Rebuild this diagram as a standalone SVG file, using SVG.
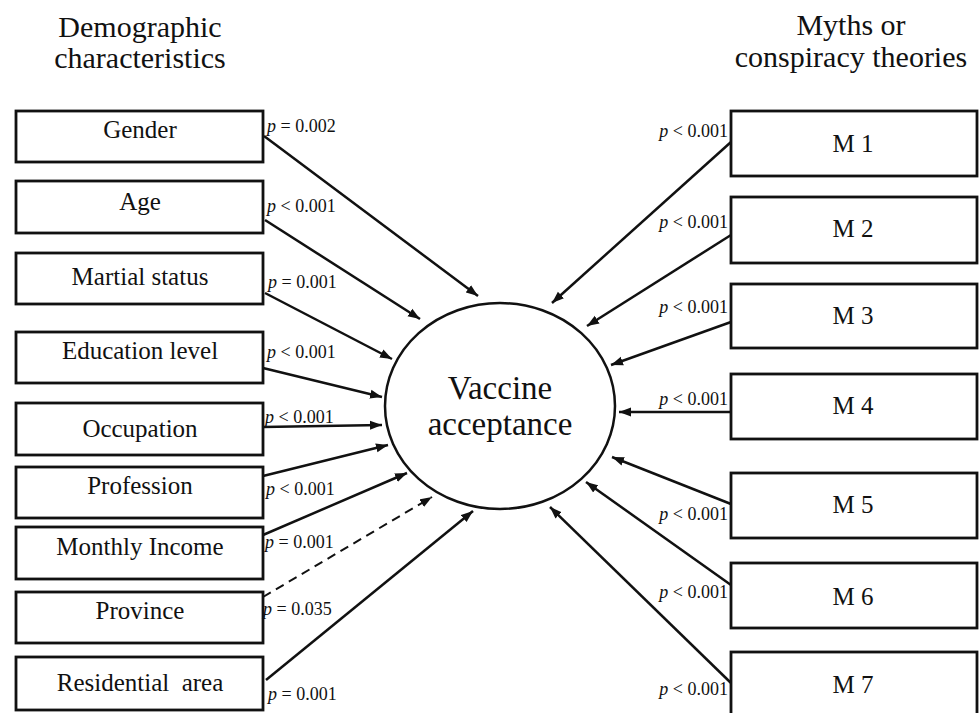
<svg xmlns="http://www.w3.org/2000/svg" width="980" height="713" viewBox="0 0 980 713" font-family="'Liberation Serif', 'DejaVu Serif', serif">
<style>
text{font-family:'Liberation Serif','DejaVu Serif',serif;fill:#111}
.box{fill:#fff;stroke:#111;stroke-width:2.8}
.lbl{font-size:25px;text-anchor:middle}
.hd{font-size:30px;text-anchor:middle}
.pv{font-size:18px}
.pr{font-size:18px;text-anchor:end}
.i{font-style:italic}
.ln{stroke:#111;stroke-width:2.5;fill:none;marker-end:url(#ah)}
.dash{stroke-width:2;stroke-dasharray:9 6}
</style>
<defs>
<marker id="ah" markerUnits="userSpaceOnUse" markerWidth="14" markerHeight="10" refX="12" refY="5" orient="auto">
<path d="M0,0.5 L12,5 L0,9.5 Z" fill="#111"/>
</marker>
</defs>
<rect width="980" height="713" fill="#fff"/>
<g id="headings">
<text class="hd" x="140" y="37">Demographic</text>
<text class="hd" x="140" y="68">characteristics</text>
<text class="hd" x="851" y="35">Myths or</text>
<text class="hd" x="851" y="67">conspiracy theories</text>
</g>
<g id="connectors">
<line class="ln" x1="264" y1="136" x2="478" y2="296"/>
<line class="ln" x1="265" y1="220" x2="420" y2="319"/>
<line class="ln" x1="265" y1="293" x2="392" y2="359"/>
<line class="ln" x1="263" y1="368" x2="382" y2="397"/>
<line class="ln" x1="263" y1="427" x2="382" y2="425"/>
<line class="ln" x1="263" y1="476" x2="388" y2="445"/>
<line class="ln" x1="263" y1="535" x2="407" y2="473"/>
<line class="ln dash" x1="263" y1="597" x2="432" y2="497"/>
<line class="ln" x1="266" y1="680" x2="473" y2="511"/>
<line class="ln" x1="731" y1="142" x2="552" y2="303"/>
<line class="ln" x1="731" y1="235" x2="587" y2="326"/>
<line class="ln" x1="731" y1="322" x2="611" y2="365"/>
<line class="ln" x1="731" y1="412" x2="619" y2="412"/>
<line class="ln" x1="731" y1="504" x2="612" y2="457"/>
<line class="ln" x1="731" y1="585" x2="586" y2="482"/>
<line class="ln" x1="731" y1="683" x2="550" y2="507"/>
</g>
<g id="vaccine">
<ellipse cx="500" cy="406" rx="115" ry="103" fill="#fff" stroke="#111" stroke-width="2.5"/>
<text class="hd" x="500" y="399" style="font-size:33px">Vaccine</text>
<text class="hd" x="500" y="435" style="font-size:33px">acceptance</text>
</g>
<g id="gender"><rect class="box" x="16" y="111" width="247" height="51"/><text class="lbl" x="140" y="138">Gender</text></g>
<g id="age"><rect class="box" x="16" y="181" width="247" height="52"/><text class="lbl" x="140" y="210">Age</text></g>
<g id="marital"><rect class="box" x="16" y="253" width="247" height="51"/><text class="lbl" x="140" y="285">Martial status</text></g>
<g id="education"><rect class="box" x="16" y="332" width="247" height="51"/><text class="lbl" x="140" y="359">Education level</text></g>
<g id="occupation"><rect class="box" x="16" y="403" width="247" height="52"/><text class="lbl" x="140" y="437">Occupation</text></g>
<g id="profession"><rect class="box" x="16" y="467" width="247" height="51"/><text class="lbl" x="140" y="494">Profession</text></g>
<g id="income"><rect class="box" x="16" y="527" width="247" height="52"/><text class="lbl" x="140" y="555">Monthly Income</text></g>
<g id="province"><rect class="box" x="16" y="592" width="247" height="51"/><text class="lbl" x="140" y="619">Province</text></g>
<g id="residential"><rect class="box" x="16" y="657" width="247" height="53"/><text class="lbl" x="140" y="691" xml:space="preserve">Residential  area</text></g>
<g id="m1"><rect class="box" x="731" y="111" width="246" height="65"/><text class="lbl" x="853" y="152">M 1</text></g>
<g id="m2"><rect class="box" x="731" y="197" width="246" height="66"/><text class="lbl" x="853" y="237">M 2</text></g>
<g id="m3"><rect class="box" x="731" y="284" width="246" height="64"/><text class="lbl" x="853" y="324">M 3</text></g>
<g id="m4"><rect class="box" x="731" y="374" width="246" height="65"/><text class="lbl" x="853" y="414">M 4</text></g>
<g id="m5"><rect class="box" x="731" y="473" width="246" height="65"/><text class="lbl" x="853" y="513">M 5</text></g>
<g id="m6"><rect class="box" x="731" y="563" width="246" height="65"/><text class="lbl" x="853" y="605">M 6</text></g>
<g id="m7"><rect class="box" x="731" y="652" width="246" height="66"/><text class="lbl" x="853" y="693">M 7</text></g>
<g id="pvalues">
<text class="pv" x="267" y="132"><tspan class="i">p</tspan> = 0.002</text>
<text class="pv" x="267" y="212"><tspan class="i">p</tspan> &lt; 0.001</text>
<text class="pv" x="268" y="288"><tspan class="i">p</tspan> = 0.001</text>
<text class="pv" x="267" y="358"><tspan class="i">p</tspan> &lt; 0.001</text>
<text class="pv" x="265" y="423"><tspan class="i">p</tspan> &lt; 0.001</text>
<text class="pv" x="266" y="495"><tspan class="i">p</tspan> &lt; 0.001</text>
<text class="pv" x="265" y="548"><tspan class="i">p</tspan> = 0.001</text>
<text class="pv" x="263" y="615"><tspan class="i">p</tspan> = 0.035</text>
<text class="pv" x="268" y="700"><tspan class="i">p</tspan> = 0.001</text>
<text class="pr" x="728" y="137"><tspan class="i">p</tspan> &lt; 0.001</text>
<text class="pr" x="728" y="228"><tspan class="i">p</tspan> &lt; 0.001</text>
<text class="pr" x="728" y="313"><tspan class="i">p</tspan> &lt; 0.001</text>
<text class="pr" x="728" y="405"><tspan class="i">p</tspan> &lt; 0.001</text>
<text class="pr" x="728" y="520"><tspan class="i">p</tspan> &lt; 0.001</text>
<text class="pr" x="728" y="598"><tspan class="i">p</tspan> &lt; 0.001</text>
<text class="pr" x="728" y="695"><tspan class="i">p</tspan> &lt; 0.001</text>
</g>
</svg>
